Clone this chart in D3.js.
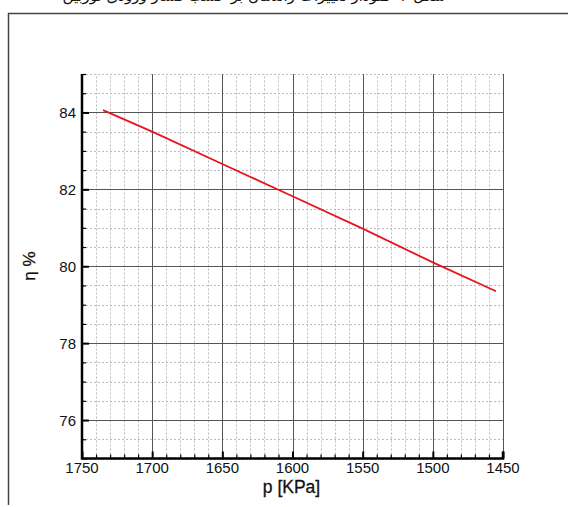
<!DOCTYPE html>
<html>
<head>
<meta charset="utf-8">
<script src="https://cdn.jsdelivr.net/npm/d3@7"></script>
<style>
  body { margin: 0; background: #fff; }
  svg { display: block; font-family: "Liberation Sans", Arial, sans-serif; }
</style>
</head>
<body>
<svg width="568" height="507"></svg>
<script>
// values
const pressure = [1735, 1700, 1650, 1600, 1550, 1500, 1455];
const efficiency = [84.06, 83.5, 82.66, 81.82, 80.98, 80.1, 79.35];
const xTicks = [1750, 1700, 1650, 1600, 1550, 1500, 1450];
const yTicks = [76, 78, 80, 82, 84];

const svg = d3.select("svg"),
  width = +svg.attr("width"),
  height = +svg.attr("height");

const margin = { left: 82, right: 65, top: 74, bottom: 48.5 };

const x = d3
  .scaleLinear()
  .domain([1750, 1450])
  .range([margin.left, width - margin.right]);

const y = d3
  .scaleLinear()
  .domain([75, 85])
  .range([height - margin.bottom, margin.top]);

// caption above the frame (cut off at the page top, as in the source)
svg
  .append("text")
  .attr("x", 254)
  .attr("y", 1)
  .attr("text-anchor", "middle")
  .attr("font-family", "DejaVu Sans")
  .attr("font-size", 15)
  .attr("direction", "rtl")
  .attr("fill", "#111")
  .text("شکل ۶- نمودار تغییرات راندمان بر حسب فشار ورودی توربین");

// outer frame
svg
  .append("path")
  .attr("d", `M8.5,${height - 2} V13.5 H${width}`)
  .attr("fill", "none")
  .attr("stroke", "#444")
  .attr("stroke-width", 1.5);

// minor grid
const xMinor = d3.range(1750, 1449, -10).filter((v) => v % 50 !== 0);
const yMinor = d3.range(75, 85.01, 0.5).filter((v) => v % 2 !== 0);

const grid = svg.append("g");

grid
  .selectAll(".vx")
  .data(xMinor)
  .join("line")
  .attr("x1", (d) => Math.round(x(d)) + 0.5)
  .attr("x2", (d) => Math.round(x(d)) + 0.5)
  .attr("y1", y(75))
  .attr("y2", y(85))
  .attr("stroke", "#bbb")
  .attr("stroke-dasharray", "2,2");

grid
  .selectAll(".hy")
  .data(yMinor)
  .join("line")
  .attr("x1", x(1750))
  .attr("x2", x(1450))
  .attr("y1", (d) => Math.round(y(d)) + 0.5)
  .attr("y2", (d) => Math.round(y(d)) + 0.5)
  .attr("stroke", "#bbb")
  .attr("stroke-dasharray", "2,2");

// major grid
grid
  .selectAll(".mx")
  .data(xTicks.slice(1))
  .join("line")
  .attr("x1", (d) => Math.round(x(d)) + 0.5)
  .attr("x2", (d) => Math.round(x(d)) + 0.5)
  .attr("y1", y(75))
  .attr("y2", y(85))
  .attr("stroke", "#555");

grid
  .selectAll(".my")
  .data(yTicks)
  .join("line")
  .attr("x1", x(1750))
  .attr("x2", x(1450))
  .attr("y1", (d) => Math.round(y(d)) + 0.5)
  .attr("y2", (d) => Math.round(y(d)) + 0.5)
  .attr("stroke", "#555");

// data line
const line = d3
  .line()
  .x((d, i) => x(pressure[i]))
  .y((d) => y(d));

svg
  .append("path")
  .datum(efficiency)
  .attr("d", line)
  .attr("fill", "none")
  .attr("stroke", "#e8141b")
  .attr("stroke-width", 1.8);

// axes (ticks point into the plot)
const xAxis = svg
  .append("g")
  .attr("transform", `translate(0,${y(75)})`)
  .call(d3.axisTop(x).tickValues(xTicks).tickSize(7).tickFormat(""));
xAxis.select(".domain").remove();
xAxis.selectAll("line").attr("stroke", "#000").attr("stroke-width", 2);

const xMinorAxis = svg
  .append("g")
  .attr("transform", `translate(0,${y(75)})`)
  .call(d3.axisTop(x).tickValues(xMinor).tickSize(4).tickFormat(""));
xMinorAxis.select(".domain").remove();
xMinorAxis.selectAll("line").attr("stroke", "#000").attr("stroke-width", 1.2);

const yAxis = svg
  .append("g")
  .attr("transform", `translate(${x(1750)},0)`)
  .call(d3.axisRight(y).tickValues(yTicks).tickSize(7).tickFormat(""));
yAxis.select(".domain").remove();
yAxis.selectAll("line").attr("stroke", "#000").attr("stroke-width", 2);

const yMinorAxis = svg
  .append("g")
  .attr("transform", `translate(${x(1750)},0)`)
  .call(d3.axisRight(y).tickValues(yMinor).tickSize(4).tickFormat(""));
yMinorAxis.select(".domain").remove();
yMinorAxis.selectAll("line").attr("stroke", "#000").attr("stroke-width", 1.2);

// axis lines
svg
  .append("path")
  .attr("d", `M${x(1750)},${y(85)} V${y(75)} H${x(1450)} V${y(75) - 7}`)
  .attr("fill", "none")
  .attr("stroke", "#000")
  .attr("stroke-width", 2.5);

// tick labels
svg
  .append("g")
  .selectAll("text")
  .data(xTicks)
  .join("text")
  .attr("x", (d) => x(d))
  .attr("y", y(75) + 14.5)
  .attr("text-anchor", "middle")
  .attr("font-size", 15)
  .attr("fill", "#111")
  .text((d) => d);

svg
  .append("g")
  .selectAll("text")
  .data(yTicks)
  .join("text")
  .attr("x", x(1750) - 6)
  .attr("y", (d) => y(d) + 5.5)
  .attr("text-anchor", "end")
  .attr("font-size", 15)
  .attr("fill", "#111")
  .text((d) => d);

// axis titles
svg
  .append("text")
  .attr("x", (x(1750) + x(1450)) / 2 - 1)
  .attr("y", 492.5)
  .attr("text-anchor", "middle")
  .attr("font-size", 17.5)
  .attr("fill", "#111")
  .attr("stroke", "#111")
  .attr("stroke-width", 0.3)
  .text("p [KPa]");

svg
  .append("text")
  .attr("transform", "translate(35,266) rotate(-90)")
  .attr("text-anchor", "middle")
  .attr("font-size", 17)
  .attr("fill", "#111")
  .attr("stroke", "#111")
  .attr("stroke-width", 0.3)
  .text("η %");
</script>
</body>
</html>
